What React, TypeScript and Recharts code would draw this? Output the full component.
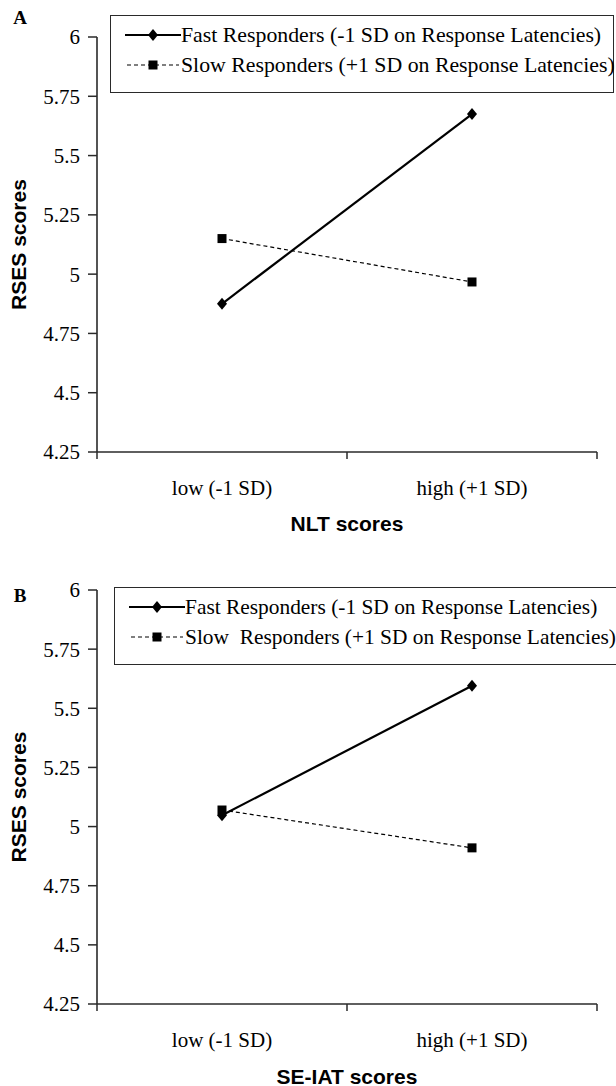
import React from 'react';
import { LineChart, Line, XAxis, YAxis, Legend, Label } from 'recharts';

const categories = ['low (-1 SD)', 'high (+1 SD)'];
const yTicks = [4.25, 4.5, 4.75, 5, 5.25, 5.5, 5.75, 6];
const xTicks = [0, 0.5, 1, 1.5, 2];

const fastA = [4.875, 5.675];
const slowA = [5.15, 4.967];
const fastB = [5.048, 5.595];
const slowB = [5.07, 4.91];

const fastName = 'Fast Responders (-1 SD on Response Latencies)';
const slowNameA = 'Slow Responders (+1 SD on Response Latencies)';
const slowNameB = 'Slow  Responders (+1 SD on Response Latencies)';

const SERIF = '"Liberation Serif", "Times New Roman", Times, serif';
const SANS = '"Liberation Sans", Arial, Helvetica, sans-serif';
const AXIS = '#2a2a2a';

const buildData = (fast: number[], slow: number[]) =>
  categories.map((c, i) => ({ name: c, pos: i + 0.5, fast: fast[i], slow: slow[i] }));

const Diamond = (props: any) => {
  const { cx, cy } = props;
  if (cx == null || cy == null) return null;
  return (
    <path
      d={`M${cx} ${cy - 6} L${cx + 5} ${cy} L${cx} ${cy + 6} L${cx - 5} ${cy} Z`}
      fill="#000"
    />
  );
};

const Square = (props: any) => {
  const { cx, cy } = props;
  if (cx == null || cy == null) return null;
  return <rect x={cx - 4.5} y={cy - 4.5} width={9} height={9} fill="#000" />;
};

const XTick = (props: any) => {
  const { x, y, payload } = props;
  const v = payload.value;
  if (Number.isInteger(v)) {
    return <line x1={x} x2={x} y1={y} y2={y + 7} stroke={AXIS} strokeWidth={1.5} />;
  }
  const label = categories[Math.floor(v)];
  return (
    <text x={x} y={y + 36} textAnchor="middle" dominantBaseline="central" fontFamily={SERIF} fontSize={21} fill="#000">
      {label}
    </text>
  );
};

const LegendRow = ({ dashed, name, fontSize }: { dashed: boolean; name: string; fontSize: number }) => (
  <div style={{ display: 'flex', alignItems: 'center', height: 30 }}>
    <svg width={56} height={20} style={{ display: 'block', flex: 'none' }}>
      {dashed ? (
        <>
          <line x1={2} x2={54} y1={10} y2={10} stroke="#000" strokeWidth={1.2} strokeDasharray="4 3" />
          <rect x={23.5} y={5.5} width={9} height={9} fill="#000" />
        </>
      ) : (
        <>
          <line x1={0} x2={56} y1={10} y2={10} stroke="#000" strokeWidth={2.2} />
          <path d="M28 4 L33 10 L28 16 L23 10 Z" fill="#000" />
        </>
      )}
    </svg>
    <span style={{ fontFamily: SERIF, fontSize, color: '#000', whiteSpace: 'pre', lineHeight: '30px' }}>{name}</span>
  </div>
);

const makeLegend = (slowName: string, fontSize: number) => () => (
  <div
    style={{
      border: `1.5px solid ${AXIS}`,
      background: '#fff',
      boxSizing: 'border-box',
      height: 78,
      paddingTop: 4,
      paddingLeft: 14,
      textAlign: 'left',
    }}
  >
    <LegendRow dashed={false} name={fastName} fontSize={fontSize} />
    <LegendRow dashed={true} name={slowName} fontSize={fontSize} />
  </div>
);

type PanelProps = {
  letter: string;
  letterY: number;
  xTitle: string;
  fast: number[];
  slow: number[];
  slowName: string;
  top: number;
  bottom: number;
  legendTop: number;
  legendLeft: number;
  legendWidth: number;
  legendFont: number;
  titleOffset: number;
};

const Panel = (p: PanelProps) => {
  const data = buildData(p.fast, p.slow);
  return (
    <LineChart
      width={616}
      height={543}
      data={data}
      margin={{ top: p.top, right: 19, left: 0, bottom: 0 }}
    >
      <XAxis
        dataKey="pos"
        type="number"
        domain={[0, 2]}
        ticks={xTicks}
        interval={0}
        height={p.bottom}
        tickSize={0}
        tickMargin={0}
        tickLine={false}
        axisLine={{ stroke: AXIS, strokeWidth: 1.6 }}
        tick={<XTick />}
      >
        <Label
          content={(props: any) => {
            const vb = props.viewBox || {};
            return (
              <text
                x={vb.x + vb.width / 2}
                y={vb.y + p.titleOffset}
                textAnchor="middle"
                dominantBaseline="central"
                fontFamily={SANS}
                fontWeight="bold"
                fontSize={21}
                fill="#000"
              >
                {p.xTitle}
              </text>
            );
          }}
        />
      </XAxis>
      <YAxis
        type="number"
        domain={[4.25, 6]}
        ticks={yTicks}
        interval={0}
        width={97}
        tickSize={9}
        tickMargin={8}
        axisLine={{ stroke: AXIS, strokeWidth: 1.6 }}
        tickLine={{ stroke: AXIS, strokeWidth: 1.5 }}
        tick={{ fontFamily: SERIF, fontSize: 21, fill: '#000' }}
        tickFormatter={(v: number) => String(v)}
      >
        <Label
          content={(props: any) => {
            const vb = props.viewBox || {};
            const cy = vb.y + vb.height / 2;
            return (
              <g>
                <text
                  x={18}
                  y={cy}
                  transform={`rotate(-90 18 ${cy})`}
                  textAnchor="middle"
                  dominantBaseline="central"
                  fontFamily={SANS}
                  fontWeight="bold"
                  fontSize={21}
                  fill="#000"
                >
                  RSES scores
                </text>
                <text
                  x={20}
                  y={p.letterY}
                  textAnchor="middle"
                  dominantBaseline="central"
                  fontFamily={SERIF}
                  fontWeight="bold"
                  fontSize={19}
                  fill="#000"
                >
                  {p.letter}
                </text>
              </g>
            );
          }}
        />
      </YAxis>
      <Legend
        layout="horizontal"
        align="center"
        verticalAlign="middle"
        wrapperStyle={{ top: p.legendTop, left: p.legendLeft, width: p.legendWidth, height: 78 }}
        content={makeLegend(p.slowName, p.legendFont)}
      />
      <Line
        name={fastName}
        dataKey="fast"
        stroke="#000"
        strokeWidth={2.2}
        dot={<Diamond />}
        activeDot={false}
        isAnimationActive={false}
      />
      <Line
        name={p.slowName}
        dataKey="slow"
        stroke="#000"
        strokeWidth={1.2}
        strokeDasharray="4 3"
        dot={<Square />}
        activeDot={false}
        isAnimationActive={false}
      />
    </LineChart>
  );
};

export default function App() {
  return (
    <div
      style={{
        position: 'absolute',
        left: 0,
        top: 0,
        width: 616,
        height: 1086,
        background: '#fff',
        overflow: 'hidden',
      }}
    >
      <div style={{ position: 'absolute', left: 0, top: 0 }}>
        <Panel
          letter="A"
          letterY={17}
          xTitle="NLT scores"
          fast={fastA}
          slow={slowA}
          slowName={slowNameA}
          top={37}
          bottom={91}
          legendTop={15}
          legendLeft={110}
          legendWidth={504}
          legendFont={21.8}
          titleOffset={71}
        />
      </div>
      <div style={{ position: 'absolute', left: 0, top: 543 }}>
        <Panel
          letter="B"
          letterY={52}
          xTitle="SE-IAT scores"
          fast={fastB}
          slow={slowB}
          slowName={slowNameB}
          top={47}
          bottom={82}
          legendTop={44}
          legendLeft={114}
          legendWidth={510}
          legendFont={21.4}
          titleOffset={72}
        />
      </div>
    </div>
  );
}
